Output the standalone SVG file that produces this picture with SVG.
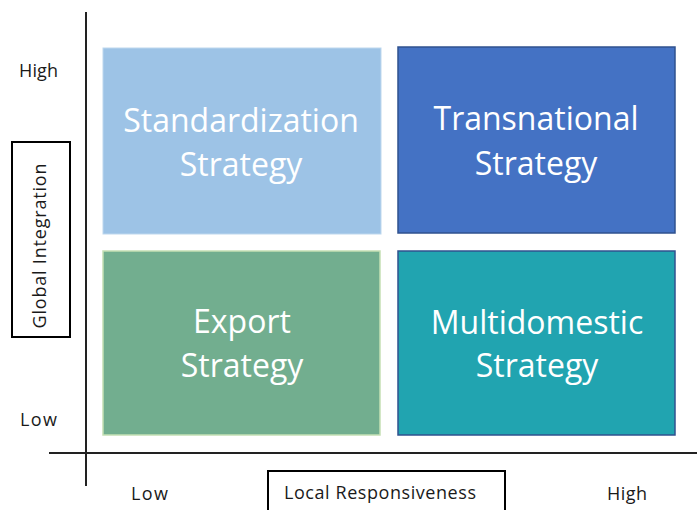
<svg xmlns="http://www.w3.org/2000/svg" width="697" height="510" viewBox="0 0 697 510">
<style>
.big{font-family:"Open Sans","Noto Sans",sans-serif;font-size:32px;fill:#ffffff;text-anchor:middle}
.lbl{font-family:"Open Sans","Noto Sans",sans-serif;font-size:18px;fill:#1a1a1a}
.axis{stroke:#222;stroke-width:2;fill:none}
.frame{fill:#ffffff;stroke:#000;stroke-width:2}
</style>
<rect width="697" height="510" fill="#fff"/>
<g id="axes" class="connectors">
<line class="axis" x1="86" y1="12" x2="86" y2="486"/>
<line class="axis" x1="49" y1="453" x2="697" y2="453"/>
</g>
<g id="standardization">
<rect x="103" y="48" width="278" height="186" fill="#9DC3E6" stroke="#BDD7EE" stroke-width="1"/>
<text class="big" x="241" y="132">Standardization</text>
<text class="big" x="241" y="176">Strategy</text>
</g>
<g id="transnational">
<rect x="398" y="47" width="277" height="186" fill="#4472C4" stroke="#2F528F" stroke-width="1.5"/>
<text class="big" x="536" y="130">Transnational</text>
<text class="big" x="536" y="175">Strategy</text>
</g>
<g id="export">
<rect x="103" y="251" width="277" height="184" fill="#72AE8F" stroke="#C5E0B4" stroke-width="1.5"/>
<text class="big" x="242" y="333">Export</text>
<text class="big" x="242" y="377">Strategy</text>
</g>
<g id="multidomestic">
<rect x="398" y="251" width="277" height="184" fill="#21A4B0" stroke="#2F528F" stroke-width="1.5"/>
<text class="big" x="537" y="334">Multidomestic</text>
<text class="big" x="537" y="377">Strategy</text>
</g>
<g id="labels">
<text class="lbl" x="19" y="77" textLength="39">High</text>
<text class="lbl" x="20" y="426" textLength="37">Low</text>
<text class="lbl" x="131" y="500" textLength="37">Low</text>
<text class="lbl" x="607" y="500" textLength="40">High</text>
</g>
<g id="global-integration">
<rect class="frame" x="12" y="142" width="58" height="195"/>
<text class="lbl" x="0" y="0" text-anchor="middle" textLength="165" transform="translate(46 246) rotate(-90)">Global Integration</text>
</g>
<g id="local-responsiveness">
<rect class="frame" x="268" y="471" width="237" height="50"/>
<text class="lbl" x="380" y="499" text-anchor="middle" textLength="192">Local Responsiveness</text>
</g>
</svg>
